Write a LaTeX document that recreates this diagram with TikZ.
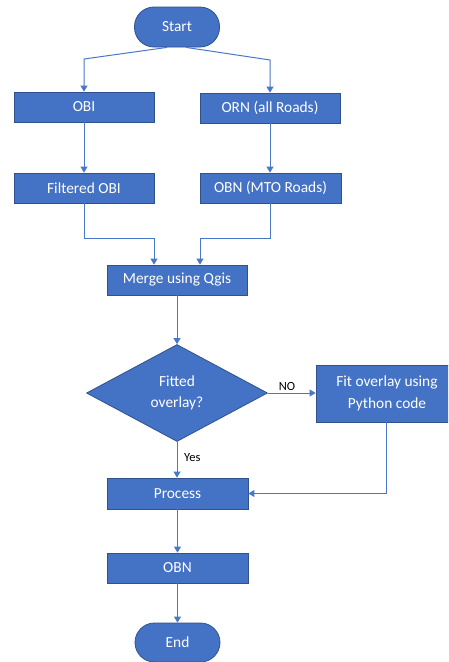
\documentclass[tikz,border=0pt]{standalone}
\usepackage{fontspec}
\setmainfont{Carlito}
\usetikzlibrary{shapes.geometric,arrows.meta}
\definecolor{boxblue}{HTML}{4472C4}
\definecolor{boxedge}{HTML}{2F528F}
\definecolor{linkblue}{HTML}{4A78C8}
\tikzset{
  blockbox/.style={draw=boxedge, line width=0.8pt, fill=boxblue, text=white, rectangle, inner sep=0pt,
    font=\fontsize{15.4}{21.5}\selectfont, align=center},
  termbox/.style={blockbox, rounded corners=19.5pt},
  decbox/.style={blockbox, diamond, minimum width=181pt, minimum height=97pt},
  conn/.style={draw=linkblue, line width=1pt, -{Triangle[length=6pt,width=7pt]}},
  lbl/.style={text=black, font=\fontsize{12.5}{14}\selectfont, inner sep=0pt}
}
\begin{document}
\begin{tikzpicture}[x=1pt,y=-1pt]
\useasboundingbox (0,0) rectangle (448,662);
\clip (0,0) rectangle (448,662);
\fill[white] (0,0) rectangle (448,662);

\node[termbox, minimum width=85pt, minimum height=40pt] (start) at (177,27) {Start};
\node[blockbox, minimum width=140pt, minimum height=30pt] (obi) at (84,107) {OBI};
\node[blockbox, minimum width=140pt, minimum height=30pt] (orn) at (270,108) {ORN (all Roads)};
\node[blockbox, minimum width=140pt, minimum height=30pt] (fobi) at (84,188) {Filtered OBI};
\node[blockbox, minimum width=141pt, minimum height=30pt] (obnm) at (270.5,188) {OBN (MTO Roads)};
\node[blockbox, minimum width=140pt, minimum height=30pt] (merge) at (177,280) {Merge using Qgis};
\node[decbox] (dec) at (177,393) {Fitted\\overlay?};
\node[blockbox, minimum width=142pt, minimum height=57pt] (fit) at (387,393.5) {Fit overlay using\\Python code};
\node[blockbox, minimum width=141pt, minimum height=31pt] (proc) at (177.5,493.5) {Process};
\node[blockbox, minimum width=141pt, minimum height=30pt] (obn) at (177.5,568) {OBN};
\node[termbox, minimum width=85pt, minimum height=39pt] (end) at (177.5,642.5) {End};

\coordinate (sl) at (84,59);
\coordinate (sr) at (270,60);
\draw[conn] ([xshift=-10pt]start.south) -- (sl) -- (obi.north);
\draw[conn] ([xshift=9pt]start.south) -- (sr) -- (orn.north);
\draw[conn] (obi.south) -- (fobi.north);
\draw[conn] (orn.south) -- (orn.south |- obnm.north);
\draw[conn] (fobi.south) -- (fobi.south |- 0,238) -- ([xshift=-23pt]merge.north |- 0,238) -- ([xshift=-23pt]merge.north);
\draw[conn] (obnm.south) -- (obnm.south |- 0,238) -- ([xshift=23pt]merge.north |- 0,238) -- ([xshift=23pt]merge.north);
\draw[conn] (merge.south) -- (dec.north);
\draw[conn] (dec.east) -- (dec.east -| fit.west);
\draw[conn] (dec.south) -- (dec.south |- proc.north);
\draw[conn] ([xshift=-1pt]fit.south) -- ([xshift=-1pt]fit.south |- proc.east) -- (proc.east);
\draw[conn] (proc.south) -- (obn.north);
\draw[conn] (obn.south) -- (end.north);

\node[lbl] (nolbl) at (287,386) {NO};
\node[lbl, anchor=west] (yeslbl) at (184,458) {Yes};
\end{tikzpicture}
\end{document}
